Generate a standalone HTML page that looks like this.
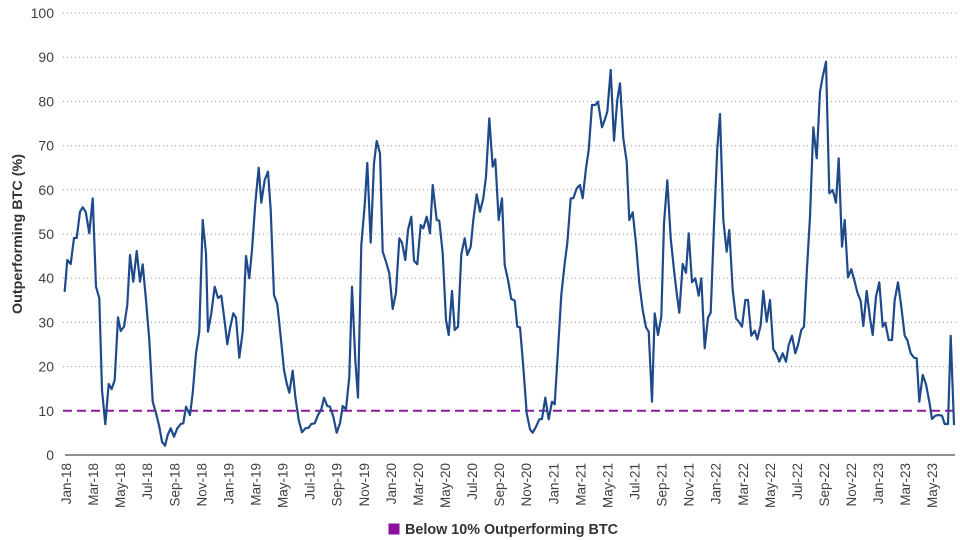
<!DOCTYPE html>
<html>
<head>
<meta charset="utf-8">
<style>
  html,body{margin:0;padding:0;background:#fff;}
  svg{display:block;}
  text{font-family:"Liberation Sans",sans-serif;}
</style>
</head>
<body>
<svg width="960" height="540" viewBox="0 0 960 540" xmlns="http://www.w3.org/2000/svg">
  <rect x="0" y="0" width="960" height="540" fill="#ffffff"/>
  <!-- gridlines -->
  <g stroke="#9a9a9a" stroke-width="1" stroke-dasharray="1 3">
    <line x1="63" y1="13" x2="956" y2="13"/>
    <line x1="63" y1="57.2" x2="956" y2="57.2"/>
    <line x1="63" y1="101.4" x2="956" y2="101.4"/>
    <line x1="63" y1="145.6" x2="956" y2="145.6"/>
    <line x1="63" y1="189.8" x2="956" y2="189.8"/>
    <line x1="63" y1="234" x2="956" y2="234"/>
    <line x1="63" y1="278.2" x2="956" y2="278.2"/>
    <line x1="63" y1="322.4" x2="956" y2="322.4"/>
    <line x1="63" y1="366.6" x2="956" y2="366.6"/>
  </g>
  <!-- y tick labels -->
  <g font-size="14" fill="#404040" text-anchor="end">
    <text x="54" y="18">100</text>
    <text x="54" y="62.2">90</text>
    <text x="54" y="106.4">80</text>
    <text x="54" y="150.6">70</text>
    <text x="54" y="194.8">60</text>
    <text x="54" y="239">50</text>
    <text x="54" y="283.2">40</text>
    <text x="54" y="327.4">30</text>
    <text x="54" y="371.6">20</text>
    <text x="54" y="415.8">10</text>
    <text x="54" y="460">0</text>
  </g>
  <!-- y axis title -->
  <text transform="translate(22,234) rotate(-90)" text-anchor="middle" font-size="14" font-weight="bold" fill="#333" textLength="160" lengthAdjust="spacingAndGlyphs">Outperforming BTC (%)</text>
  <!-- x axis line -->
  <line x1="65" y1="455" x2="955" y2="455" stroke="#6b6b6b" stroke-width="1.5"/>
  <!-- x tick labels -->
  <g font-size="13.5" fill="#404040" text-anchor="end">
    <text transform="translate(71.0,463) rotate(-90)">Jan-18</text>
    <text transform="translate(98.1,463) rotate(-90)">Mar-18</text>
    <text transform="translate(125.1,463) rotate(-90)">May-18</text>
    <text transform="translate(152.2,463) rotate(-90)">Jul-18</text>
    <text transform="translate(179.3,463) rotate(-90)">Sep-18</text>
    <text transform="translate(206.4,463) rotate(-90)">Nov-18</text>
    <text transform="translate(233.4,463) rotate(-90)">Jan-19</text>
    <text transform="translate(260.5,463) rotate(-90)">Mar-19</text>
    <text transform="translate(287.6,463) rotate(-90)">May-19</text>
    <text transform="translate(314.6,463) rotate(-90)">Jul-19</text>
    <text transform="translate(341.7,463) rotate(-90)">Sep-19</text>
    <text transform="translate(368.8,463) rotate(-90)">Nov-19</text>
    <text transform="translate(395.8,463) rotate(-90)">Jan-20</text>
    <text transform="translate(422.9,463) rotate(-90)">Mar-20</text>
    <text transform="translate(450.0,463) rotate(-90)">May-20</text>
    <text transform="translate(477.1,463) rotate(-90)">Jul-20</text>
    <text transform="translate(504.1,463) rotate(-90)">Sep-20</text>
    <text transform="translate(531.2,463) rotate(-90)">Nov-20</text>
    <text transform="translate(558.3,463) rotate(-90)">Jan-21</text>
    <text transform="translate(585.3,463) rotate(-90)">Mar-21</text>
    <text transform="translate(612.4,463) rotate(-90)">May-21</text>
    <text transform="translate(639.5,463) rotate(-90)">Jul-21</text>
    <text transform="translate(666.5,463) rotate(-90)">Sep-21</text>
    <text transform="translate(693.6,463) rotate(-90)">Nov-21</text>
    <text transform="translate(720.7,463) rotate(-90)">Jan-22</text>
    <text transform="translate(747.8,463) rotate(-90)">Mar-22</text>
    <text transform="translate(774.8,463) rotate(-90)">May-22</text>
    <text transform="translate(801.9,463) rotate(-90)">Jul-22</text>
    <text transform="translate(829.0,463) rotate(-90)">Sep-22</text>
    <text transform="translate(856.0,463) rotate(-90)">Nov-22</text>
    <text transform="translate(883.1,463) rotate(-90)">Jan-23</text>
    <text transform="translate(910.2,463) rotate(-90)">Mar-23</text>
    <text transform="translate(937.2,463) rotate(-90)">May-23</text>
  </g>
  <!-- 10% threshold line -->
  <line x1="63" y1="410.8" x2="956" y2="410.8" stroke="#8e1a9c" stroke-width="2" stroke-dasharray="9 5"/>
  <!-- series -->
  <polyline fill="none" stroke="#1f4a8a" stroke-width="2.2" stroke-linejoin="round" stroke-linecap="round" points="
64.7,291 67.3,260 70.7,264 74,238 76.7,238 80,211.7 82.7,207.3 85.7,211.7 89.3,233.3 92.7,198.3 96,286.7 99.3,298.3 102,390 105.3,424.3 108.7,384 111.7,389 114.7,380 118,317.3 120.7,331 124,326.7 127.3,305 130,255 133.3,281.7 136.7,251 140,281.7 142.7,264.3 146,300 149.3,340 152.7,401.7 156,413 159.3,426.7 162,441.7 165,445.7 167.7,435 170.7,428.3 174,436.7 177.3,428.3 180.7,424 183.3,423.3 186,406.7 190,415 192.7,393.3 196,353.3 199.3,331.7 202.7,220 206,253.3 208,331.7 211.3,313.3 214.7,286.7 218,298
221.3,295.7 224.7,321.7 227.3,344.3 230,328.3 233.3,313.3 236,317.7 239.3,357.7 242.7,331.7 246,256 249.3,278.3 252,250 255.3,203.3 258.7,167.7 261.3,202.7 264.7,180 268,171.7 270.7,210 274,295 277.3,304.3 280.7,336.7 284,370 286.7,383.3 289.3,392.7 292.7,370.7 295.3,396.7 298.7,420 302,432.3 305.3,428.3 308.7,427.7 311.3,424 314.7,423.3 318,415 321.3,409.3 324,397.7 327.3,406 330,406.7 333.3,416.7 336.7,432.7 340,423.3 342.7,406 346,409.3 349.3,376.7 352,286.7 355.3,360 358,397.7 361.3,245 364.7,205 367.3,163 370.7,242.7
374,163.3 376.7,141 380,153.3 382.7,251.7 386,261.7 389.3,273.3 392.7,309 396,292.7 399.3,238.3 402,242.7 405.3,260 408,230 411.3,216.7 414,260.7 417.3,264.3 420.7,225 423.3,228.3 426.7,216.7 430,233.3 432.7,185 436.7,220 439.3,220.7 442.7,253.3 446,320 448.7,335 452,291 454.7,330 458,326.7 461.3,254.3 464.7,238.3 467.3,255 470.7,246.7 473.3,220 476.7,194.3 480,211.7 483.3,198.3 486,176.7 489.3,118.3 492.7,166.7 495.3,159.3 498.7,220 502,198.3 504.7,265 508,280 511.3,299 514.7,300.5 517.3,326.7 520,327.3
523.3,366.7 526.7,413.3 530,429.3 532.7,432.7 536,426.7 539.3,419.3 542,419 545.3,397.7 548.7,419.3 552,401.7 554.7,404.3 558,350 561.3,295 564.7,263.3 567.3,243.3 570.7,198.3 573.3,198.3 576.7,188.3 580,185 582.7,198.3 586,168.3 588.7,150 592,105 595.3,105 598,101.7 602,127.3 604.7,120 607.3,111.7 610.7,70 614,140.7 617.3,100 620,83.3 623.3,138.3 626.7,161.7 629.3,220 632.7,212.3 636,243.3 639.3,283.3 642.7,310 646,327.3 648.7,331.7 652,401.7 654.7,313.3 658,335 661.3,316.7 664,223.3 667.3,180.3
670.7,238.3 674,270 676.7,293.3 679.3,312.7 682.7,264 686,272.7 688.7,233.3 692,282.3 695.3,278.3 698.7,295.7 701.3,278.3 704.7,348.3 708,317.7 710.7,312.7 714,225 717.3,148.3 720,114 723.3,220 726.7,251.7 729.3,230 732.7,290 736,318.3 739.3,322.3 742,326.7 745.3,300 748,300 751.3,335.7 754.7,330.7 757.3,339.3 760.7,325 763.3,291 766.7,321.7 770,300 773.3,349.3 776,353.3 779.3,361.7 782.7,353.3 786,361.7 788.7,345 792,335.7 795.3,353.3 798,345 801.3,330 804,326.7
806.7,273.3 810,216.7 813.3,127.3 816.7,158.3 820,91.7 822.7,76.7 826,61.7 829.3,193.3 832.7,190 836,202.7 838.7,158.3 842,246.7 844.7,220 848,277.3 851.3,269.3 854.7,281.7 857.3,292.3 860.7,301 863.3,326 866.7,291 870,318.3 872.7,335 876,296.7 879.3,282.3 882.7,326.7 885.3,322.7 888.7,340 892,340 894.7,300 898,282.3 901.3,306.7 904.7,335.7 907.3,340 910.7,353.3 914,357.7 916.7,358.3 919.3,401.7 922.7,375 926,384.3 929.3,401.7 932,419 935.3,415.7 938.7,415 942,415.7 944.7,424 948,424 950.7,335.7 954,424.3"/>
  <!-- legend -->
  <rect x="388.5" y="523.5" width="11" height="11" fill="#8e0e9e"/>
  <text x="405" y="534" font-size="14.4" font-weight="bold" fill="#333" textLength="213" lengthAdjust="spacingAndGlyphs">Below 10% Outperforming BTC</text>
</svg>
</body>
</html>
